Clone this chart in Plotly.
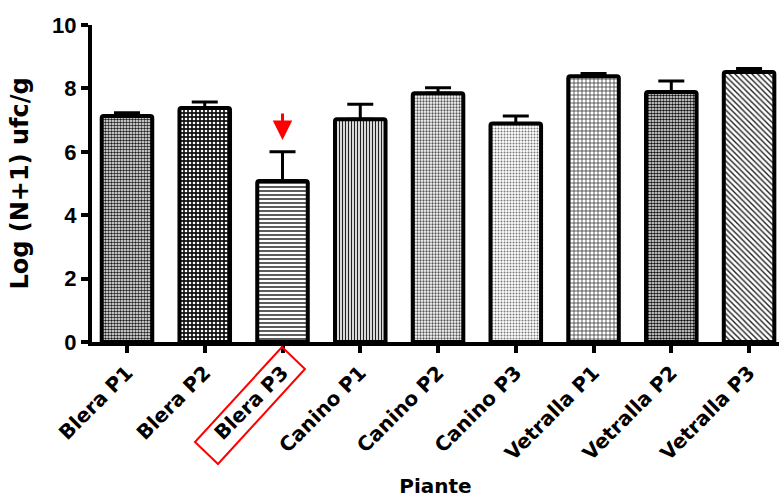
import plotly.graph_objects as go

# ---- data ----
categories = ["Blera P1", "Blera P2", "Blera P3",
              "Canino P1", "Canino P2", "Canino P3",
              "Vetralla P1", "Vetralla P2", "Vetralla P3"]
means = [7.13, 7.38, 5.08, 7.03, 7.85, 6.89, 8.38, 7.89, 8.52]
sem = [0.10, 0.19, 0.92, 0.47, 0.17, 0.24, 0.09, 0.34, 0.11]
y_ticks = [0, 2, 4, 6, 8, 10]
highlight = "Blera P3"
arrow_tip_value = 6.37

# ---- styles (per bar patterns) ----
p_shape = [".", ".", "-", "|", ".", ".", "+", ".", "\\"]
p_size = [3, 4, 4, 3, 3, 3, 4, 3, 4]
p_solid = [0.55, 0.35, 0.4, 0.45, 0.45, 0.35, 0.3, 0.6, 0.35]
p_fg = ["#222", "white", "#333", "#222", "#555", "#777", "#111", "#111", "#222"]
p_bg = ["white", "#111", "white", "white", "white", "white", "white", "white", "white"]

NUMFONT = "Arial, 'Liberation Sans', sans-serif"
TXTFONT = "'DejaVu Sans', Verdana, sans-serif"
W, H = 779, 501
L, R, T, B = 92, 0, 25, 159

fig = go.Figure()
fig.add_trace(go.Bar(
    x=categories, y=means,
    width=0.65,
    marker=dict(
        color="white",
        line=dict(color="black", width=4),
        cornerradius=2,
        pattern=dict(shape=p_shape, size=p_size, solidity=p_solid,
                     fgcolor=p_fg, bgcolor=p_bg, fillmode="replace"),
    ),
    error_y=dict(type="data", symmetric=False, array=sem,
                 arrayminus=[0] * len(sem), color="black",
                 thickness=3, width=13),
    hoverinfo="skip",
))

# pixel -> paper helpers for the annotation box
pw = W - L - R
ph = H - T - B
def px(x):
    return (x - L) / pw
def py(y):
    return (H - B - y) / ph

corners = [(282, 347), (305, 369), (218, 464), (195, 442)]
path = "M " + " L ".join(f"{px(a):.4f},{py(b):.4f}" for a, b in corners) + " Z"
fig.add_shape(type="path", path=path, xref="paper", yref="paper",
              line=dict(color="red", width=2), fillcolor="rgba(0,0,0,0)")

fig.add_annotation(x=highlight, y=arrow_tip_value, xref="x", yref="y",
                   text="", showarrow=True, ax=0, ay=-28,
                   arrowhead=2, arrowsize=1.3, arrowwidth=3,
                   arrowcolor="red")

fig.update_layout(
    width=W, height=H,
    margin=dict(l=L, r=R, t=T, b=B, autoexpand=False),
    plot_bgcolor="white", paper_bgcolor="white",
    showlegend=False,
    font=dict(family=NUMFONT, color="black"),
    xaxis=dict(
        range=[-0.45, 8.385],
        showline=True, linecolor="black", linewidth=4,
        ticks="outside", ticklen=7, tickwidth=4, tickcolor="black",
        tickangle=-45,
        tickfont=dict(family=TXTFONT, size=20, color="black", weight="bold"),
        showgrid=False, zeroline=False,
        title=dict(text="Piante", standoff=16,
                   font=dict(family=TXTFONT, size=20, color="black", weight="bold")),
        automargin=False,
    ),
    yaxis=dict(
        range=[0, 10], tickvals=y_ticks,
        showline=True, linecolor="black", linewidth=4,
        ticks="outside", ticklen=7, tickwidth=4, tickcolor="black",
        tickfont=dict(family=NUMFONT, size=22, color="black", weight="bold"),
        showgrid=False, zeroline=False,
        title=dict(text="Log (N+1) ufc/g", standoff=18,
                   font=dict(family=TXTFONT, size=24, color="black", weight="bold")),
        automargin=False,
    ),
)

fig.write_html("out.html",
               config={"displayModeBar": False},
               post_script="document.body.style.margin='0';document.body.style.overflow='hidden';")
